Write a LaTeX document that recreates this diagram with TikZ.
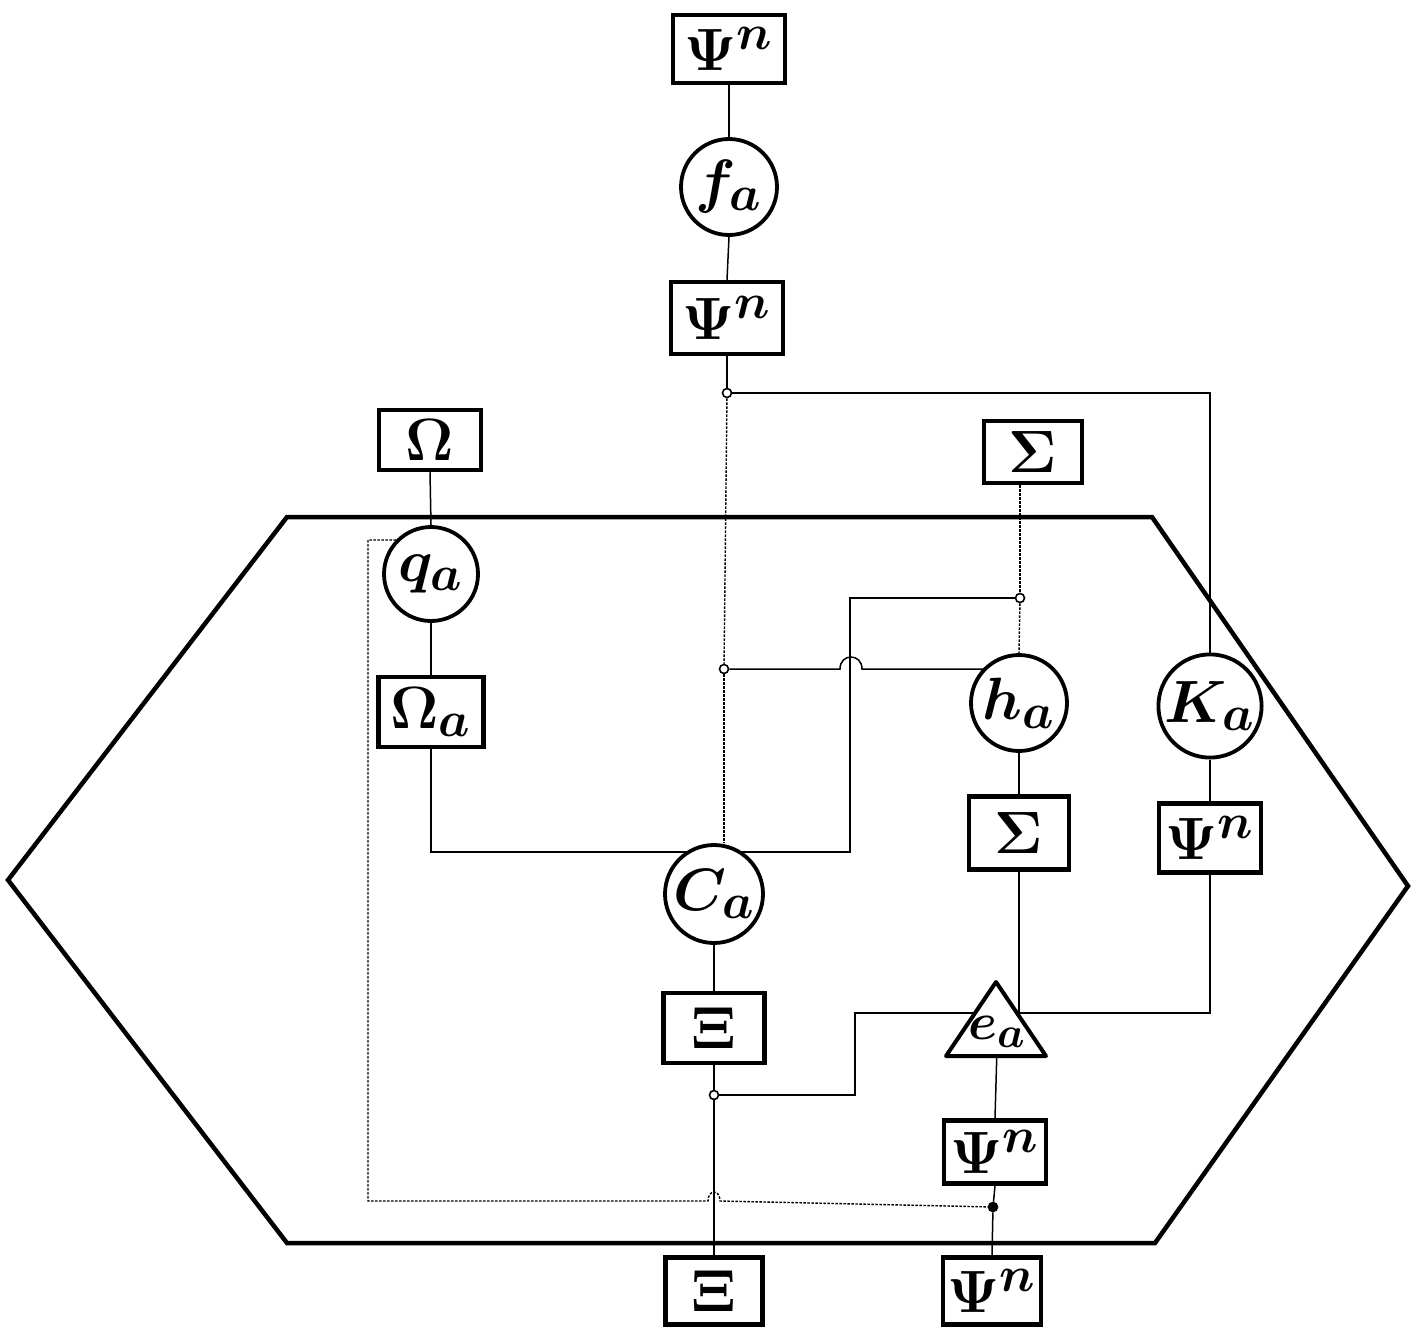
\documentclass[tikz,border=0pt]{standalone}
\usepackage{graphicx}
\usetikzlibrary{backgrounds}
\newcommand{\symtxt}[2][2.4]{\scalebox{#1}{\boldmath$#2$}}
\tikzset{
  symfont/.style={font=\Huge},
  box/.style={draw, line width=4.5pt, fill=white, inner sep=0pt, symfont},
  circ/.style={draw, circle, line width=3.8pt, fill=white, inner sep=0pt, minimum size=96pt, symfont},
  wire/.style={line width=1.5pt},
  dwire/.style={line width=1.4pt, dash pattern=on 2.5pt off 1.5pt},
  jdot/.style={draw, circle, line width=1.6pt, fill=white, minimum size=9pt, inner sep=0pt},
  jfill/.style={jdot, fill=black},
  hexa/.style={line width=4.5pt, line join=miter},
}
\begin{document}
\begin{tikzpicture}[x=1pt,y=-1pt]
\useasboundingbox (0,0) rectangle (1413,1343);
% outer hexagon
\draw[hexa] (287,517) -- (1152,517) -- (1408,886) -- (1155,1243) -- (287,1243) -- (8,880) -- cycle;
% nodes
\node[box, minimum width=112pt, minimum height=68pt] (psiA) at (729,49) {\symtxt{\Psi^n}};
\node[circ] (fa) at (729,187) {\symtxt{f_a}};
\node[box, minimum width=112pt, minimum height=72pt] (psiB) at (727,318) {\symtxt{\Psi^n}};
\node[box, minimum width=102pt, minimum height=60pt] (omega) at (430,440) {\symtxt{\Omega}};
\node[box, minimum width=98pt, minimum height=62pt] (sigT) at (1033,452) {\symtxt{\Sigma}};
\node[circ, minimum size=94pt] (qa) at (431,574) {\symtxt{q_a}};
\node[box, minimum width=105pt, minimum height=70pt] (omegaa) at (431,712) {\symtxt{\Omega_a}};
\node[circ] (ha) at (1019,703) {\symtxt{h_a}};
\node[circ] (Ka) at (1210,706) {\symtxt{K_a}};
\node[box, minimum width=100pt, minimum height=73pt] (sigM) at (1019,833) {\symtxt{\Sigma}};
\node[box, minimum width=102pt, minimum height=69pt] (psiK) at (1210,838) {\symtxt{\Psi^n}};
\node[circ, minimum size=98pt] (Ca) at (714,894) {\symtxt{C_a}};
\node[box, minimum width=101pt, minimum height=70pt] (xi) at (714,1028) {\symtxt{\Xi}};
\draw[line width=4pt, fill=white, line join=round] (996,982) -- (1046,1056) -- (946,1056) -- cycle;
\node[symfont, inner sep=0pt] (ea) at (997,1032) {\symtxt[2.1]{e_a}};
\node[box, minimum width=102pt, minimum height=63pt] (psiE) at (995,1152) {\symtxt{\Psi^n}};
\node[box, minimum width=97pt, minimum height=67pt] (xiB) at (714,1291) {\symtxt{\Xi}};
\node[box, minimum width=98pt, minimum height=67pt] (psiF) at (992,1291) {\symtxt{\Psi^n}};
% junctions
\node[jdot] (j1) at (727,393) {};
\node[jdot] (j2) at (1020,598) {};
\node[jdot] (j3) at (724,669) {};
\node[jdot] (j4) at (714,1095) {};
\node[jfill] (j5) at (993,1207) {};
\coordinate (c1) at (855,1013);
\coordinate (c2) at (850,852);
\coordinate (c3) at (368,1201);
% connectors
\begin{scope}[on background layer]
\draw[wire] (psiA.south) -- (fa.north);
\draw[wire] (fa.south) -- (psiB.north);
\draw[wire] (psiB.south) -- (j1);
\draw[dwire] (j1) -- (j3);
\draw[dwire] (j3) -- (j3 |- Ca.north);
\draw[wire] (j1) -| (Ka.north);
\draw[wire] (omega.south) -- (qa.north);
\draw[wire] (qa.south) -- (omegaa.north);
\draw[wire] (omegaa.south) |- (c2) |- (j2);
\draw[dwire] (j2 |- sigT.south) -- (j2);
\draw[dwire] (j2) -- (ha.north);
\draw[wire] (j3) -- (840,669) .. controls (840,653) and (862,653) .. (862,669) -- (j3 -| ha);
\draw[wire] (ha.south) -- (sigM.north);
\draw[wire] (Ka.south) -- (psiK.north);
\draw[wire] (sigM.south) -- (sigM.south |- ea.north);
\draw[wire] (psiK.south) |- (c1) |- (j4);
\draw[wire] (Ca.south) -- (xi.north);
\draw[wire] (xi.south) -- (j4);
\draw[wire] (j4) -- (xiB.north);
\draw[wire] (ea.south) -- (psiE.north);
\draw[wire] (psiE.south) -- (j5);
\draw[wire] (j5) -- (psiF.north);
\draw[dwire] (qa.136) -| (c3) -- (708,1201) .. controls (708,1189) and (720,1189) .. (720,1201) -- (j5);
\end{scope}
\end{tikzpicture}
\end{document}
